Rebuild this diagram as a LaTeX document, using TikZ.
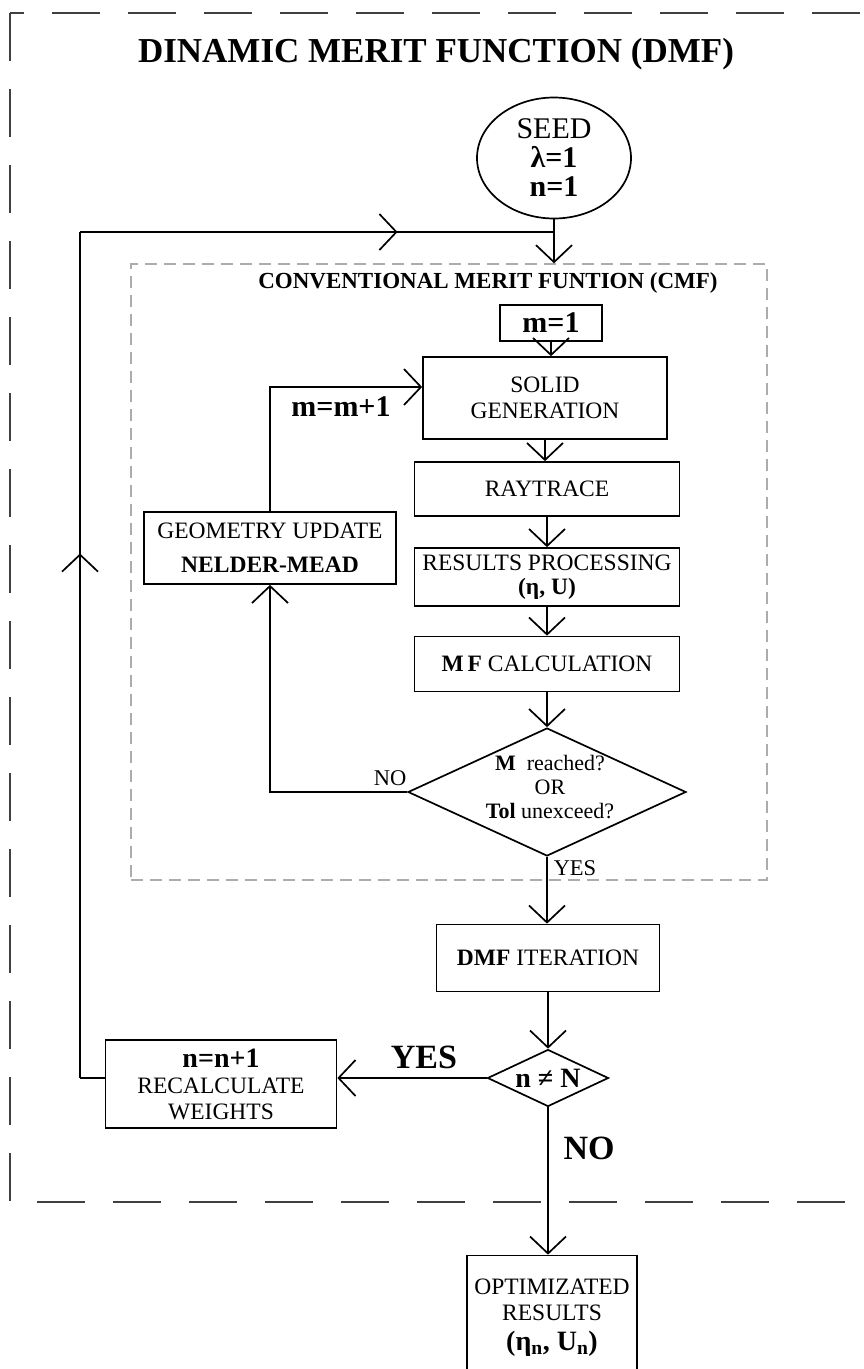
\documentclass[tikz,border=0pt]{standalone}
\usepackage{fontspec}
\setmainfont{Liberation Serif}
\usetikzlibrary{shapes.geometric,arrows.meta,decorations.markings,positioning}

\tikzset{
  box/.style={draw, line width=1.7pt, inner sep=0pt, align=center, font=\fontsize{23.5}{26}\selectfont},
  lbl/.style={font=\fontsize{22.5}{26}\selectfont},
  biglbl/.style={font=\fontsize{34}{38}\selectfont\bfseries},
  midarrow/.style={postaction={decorate, decoration={markings, mark=at position #1 with {\arrow{>}}}}}
}

\begin{document}
\begin{tikzpicture}[x=1pt, y=-1pt, line width=1.7pt, >={Straight Barb[length=17pt,width=36pt]}]
    \useasboundingbox (0,0) rectangle (864,1369);
    % outer dashed frame
    \draw[line width=1.3pt, black!75, dash pattern=on 48pt off 28pt] (10,13) rectangle (880,1202);
    \node[anchor=base, font=\fontsize{35}{40}\selectfont\bfseries] (title) at (436,62) {DINAMIC MERIT FUNCTION (DMF)};

    \node[ellipse, draw, minimum width=154pt, minimum height=121pt, inner sep=0pt, align=center,
          font=\fontsize{30}{29}\selectfont] (seed) at (554,158) {SEED\\ \textbf{λ=1}\\ \textbf{n=1}};

    % conventional merit function
    \node[draw=gray!65, dash pattern=on 12pt off 7pt, line width=1.4pt, minimum width=636pt,
          minimum height=616pt, inner sep=0pt] (cmf) at (449,572) {};
    \node[font=\fontsize{23}{26}\selectfont\bfseries] (cmftitle) at (488,283) {CONVENTIONAL MERIT FUNTION (CMF)};

    \node[box, minimum width=102pt, minimum height=36pt, font=\fontsize{30}{32}\selectfont\bfseries] (m1) at (551,323) {m=1};
    \node[box, minimum width=244pt, minimum height=82pt] (solid) at (545,398) {SOLID\\GENERATION};
    \node[box, minimum width=265pt, minimum height=54pt] (ray) at (547,489) {RAYTRACE};
    \node[box, minimum width=265pt, minimum height=58pt, font=\fontsize{23.5}{24}\selectfont] (res) at (547,577) {RESULTS PROCESSING\\ \textbf{(η, U)}};
    \node[box, minimum width=252pt, minimum height=72pt] (geo) at (270,548) {GEOMETRY UPDATE\\[8pt] \textbf{NELDER-MEAD}};
    \node[box, minimum width=265pt, minimum height=55pt] (mf) at (547,664) {\textbf{M\,F} CALCULATION};
    \node[diamond, draw, minimum width=278pt, minimum height=128pt, inner sep=0pt] (chk) at (547,792) {};
    \node[align=center, font=\fontsize{22}{24}\selectfont] (chktext) at (550,787) {\textbf{M}\ \ reached?\\OR\\ \textbf{Tol} unexceed?};
    \node[lbl] (no1) at (390,778) {NO};
    \node[lbl] (yes1) at (575,868) {YES};
    \node[font=\fontsize{30}{32}\selectfont\bfseries] (mplus) at (341,407) {m=m+1};

    \draw[->] (seed.south) -- (seed.south |- cmf.north);
    \draw[->] (m1.south) -- (m1.south |- solid.north);
    \draw[->] (solid.south) -- (solid.south |- ray.north);
    \draw[->] (ray.south) -- (ray.south |- res.north);
    \draw[->] (res.south) -- (res.south |- mf.north);
    \draw[->] (mf.south) -- (chk.north);
    \draw[->] (chk.west) -| (geo.south);
    \draw[->] (geo.north) |- ([yshift=11pt]solid.west);

    % dynamic loop
    \node[box, minimum width=223pt, minimum height=67pt] (dmf) at (548,958) {\textbf{DMF} ITERATION};
    \node[diamond, draw, aspect=2, minimum width=121pt, minimum height=57pt, inner sep=0pt,
          font=\fontsize{28}{30}\selectfont\bfseries] (dec) at (548,1078) {n ≠ N};
    \node[box, minimum width=231pt, minimum height=88pt] (rec) at (221,1084) {\textbf{\fontsize{28}{28}\selectfont n=n+1}\\RECALCULATE\\WEIGHTS};
    \node[box, minimum width=170pt, minimum height=125pt] (opt) at (552,1318) {OPTIMIZATED\\RESULTS\\[4pt] \textbf{\fontsize{28}{30}\selectfont(η\textsubscript{n}, U\textsubscript{n})}};
    \node[biglbl] (yes2) at (424,1057) {YES};
    \node[biglbl] (no2) at (589,1148) {NO};

    \draw[->] (chk.south) -- (chk.south |- dmf.north);
    \draw[->] (dmf.south) -- (dec.north);
    \draw[->] (dec.west) -- (dec.west -| rec.east);
    \draw[->] (dec.south) -- (dec.south |- opt.north);

    \coordinate (turnlow) at (80,1078);
    \coordinate (turnhigh) at (80,232);
    \coordinate (join) at (seed.south |- turnhigh);
    \draw (rec.west |- turnlow) -- (turnlow);
    \draw[midarrow=0.62] (turnlow) -- (turnhigh);
    \draw[midarrow=0.67] (turnhigh) -- (join);
\end{tikzpicture}
\end{document}
